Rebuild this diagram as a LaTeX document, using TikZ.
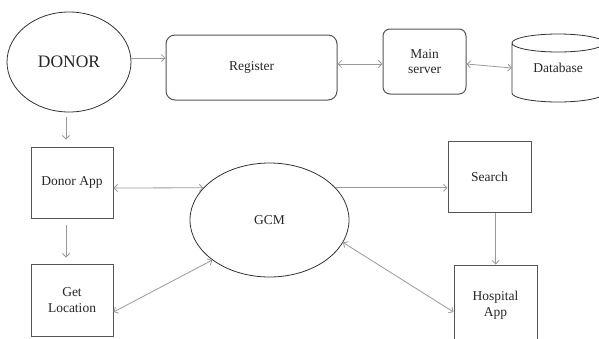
\documentclass[tikz,border=0pt]{standalone}
\usepackage{fontspec}
\setmainfont{Liberation Serif}
\usetikzlibrary{arrows.meta,shapes.geometric}
\definecolor{boxline}{HTML}{555555}
\definecolor{ellline}{HTML}{333333}
\definecolor{arrline}{HTML}{9A9A9A}
\begin{document}
\begin{tikzpicture}[x=1pt,y=-1pt,
  lbl/.style={font=\fontsize{13.5}{15.5}\selectfont, align=center, text=black!85},
  sqbox/.style={lbl, draw=boxline, line width=1pt, inner sep=0pt},
  rbox/.style={sqbox, rounded corners=9pt},
  ell/.style={lbl, ellipse, draw=ellline, line width=0.8pt, inner sep=0pt},
  conn/.style={draw=arrline, line width=0.8pt, -{Straight Barb[length=3.5pt,width=7pt]}},
  bconn/.style={draw=arrline, line width=0.8pt, {Straight Barb[length=3.5pt,width=7pt]}-{Straight Barb[length=3.5pt,width=7pt]}}
]
\useasboundingbox[fill=white] (0,0) rectangle (599,338);

% nodes
\node[ell, minimum width=124pt, minimum height=100pt, font=\fontsize{17.5}{20}\selectfont] (donor) at (69,62) {DONOR};
\node[rbox, minimum width=171pt, minimum height=65pt] (reg) at (251.5,67.5) {Register};
\node[rbox, rounded corners=7pt, minimum width=83pt, minimum height=65pt] (ms) at (424.5,61.5) {Main\\server};
\node[lbl, inner sep=0pt, minimum width=92pt, minimum height=60pt] (db) at (558,68) {Database};
\draw[draw=ellline, line width=0.8pt]
  (512,43) -- (512,93) arc[start angle=180, end angle=360, x radius=46, y radius=-9]
  -- (604,43)
  (558,43) ellipse[x radius=46, y radius=9];

\node[sqbox, minimum width=82pt, minimum height=71pt] (dapp) at (72,182.5) {Donor App};
\node[sqbox, minimum width=82pt, minimum height=72pt] (getloc) at (72,300) {Get\\Location};
\node[ell, minimum width=159pt, minimum height=114pt] (gcm) at (269.5,220) {GCM};
\node[sqbox, minimum width=83pt, minimum height=71pt] (search) at (489.5,176.5) {Search};
\node[sqbox, minimum width=83pt, minimum height=80pt] (hosp) at (495.5,305) {Hospital\\App};

% connectors
\draw[conn] (donor.east |- 0,58) -- (reg.west |- 0,58);
\draw[bconn] (reg.east |- 0,64) -- (ms.west |- 0,64);
\draw[bconn] (ms.east |- 0,64) -- (db.west);
\draw[conn, shorten <=5pt, shorten >=7pt] (donor.south -| 66,0) -- (dapp.north -| 66,0);
\draw[conn, shorten <=6pt, shorten >=6pt] (dapp.south -| 66,0) -- (getloc.north -| 66,0);
\draw[bconn] (dapp.east |- 0,188) -- (gcm.154);
\draw[bconn] (getloc.east |- 0,312) -- (gcm.215);
\draw[conn] (gcm.26) -- (search.west |- gcm.26);
\draw[conn] (search.south -| hosp.north) -- (hosp.north);
\draw[bconn] (gcm.343) -- (hosp.west |- 0,312);
\end{tikzpicture}
\end{document}
